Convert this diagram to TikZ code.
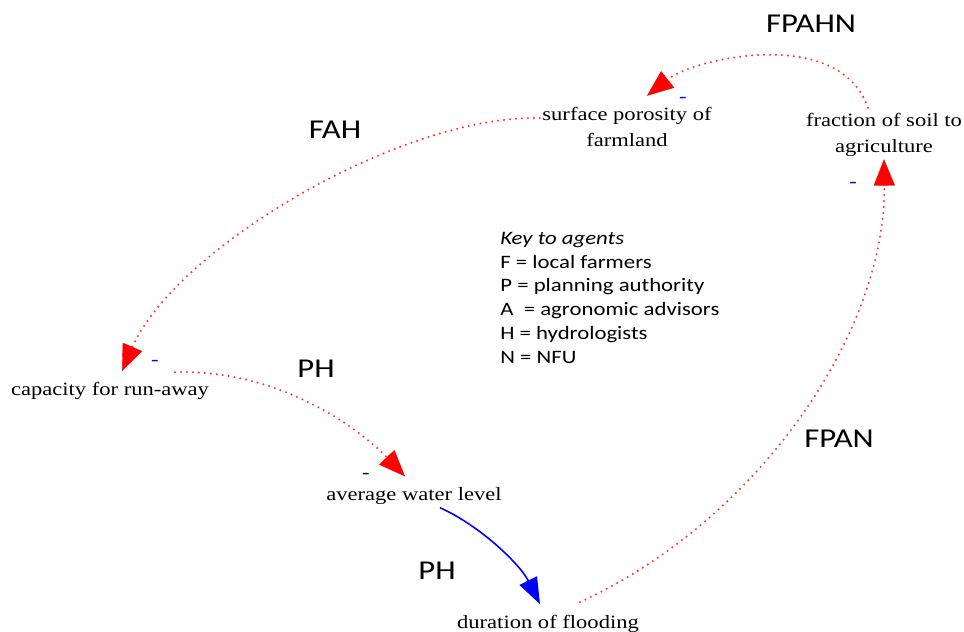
\documentclass[tikz,border=0pt]{standalone}
\usepackage{fontspec}
\setmainfont{Liberation Serif}[FakeStretch=1.2]
\newfontfamily\agentfont{Carlito}[FakeStretch=1.2]
\usetikzlibrary{arrows.meta}
\tikzset{
  factor/.style={font=\fontsize{10.7}{14.7}\selectfont, align=center, inner sep=3pt},
  agents/.style={font=\agentfont\fontsize{15.5}{18}\selectfont, anchor=base},
  sign/.style={font=\fontsize{10.7}{12}\selectfont, inner sep=0pt},
  link/.style={draw=red!80, line width=1.3pt, line cap=round, dash pattern=on 0pt off 3.4pt,
    -{Triangle[length=15pt,width=12pt,color=red,fill=red,line width=0.2pt]}},
  flow/.style={draw=blue, line width=0.9pt, -{Triangle[length=15pt,width=11pt]}}
}
\begin{document}
\begin{tikzpicture}[x=0.02cm,y=-0.02cm]
\useasboundingbox (0,0) rectangle (964,632);
% factors
\node[factor] (surf) at (627,127) {surface porosity of\\farmland};
\node[factor] (frac) at (884,135) {fraction of soil to\\agriculture};
\node[factor,anchor=base] (cap) at (110,395) {capacity for run-away};
\node[factor,anchor=base] (avg) at (414,500) {average water level};
\node[factor,anchor=base] (dur) at (548,628) {duration of flooding};
% signs
\node[sign,blue] (s1) at (683,100) {-};
\node[sign,blue] (s2) at (853,185) {-};
\node[sign,blue] (s3) at (155,363) {-};
\node[sign] (s4) at (366,476) {-};
% agents
\node[agents] (a1) at (811,32) {FPAHN};
\node[agents] (a2) at (335,138) {FAH};
\node[agents] (a3) at (316,377) {PH};
\node[agents] (a4) at (839,447) {FPAN};
\node[agents] (a5) at (437,579) {PH};
% key
\node[anchor=north west, align=left, inner sep=0pt,
  font=\agentfont\fontsize{10.8}{13.5}\selectfont] (key) at (500,232)
  {\textit{Key to agents}\\F = local farmers\\P = planning authority\\A\ \ = agronomic advisors\\H = hydrologists\\N = NFU};
% links
\draw[link] ([shift={(-16,0)}]frac.north) .. controls +(-28,-82) and +(48,-38) .. ([shift={(20,-6)}]surf.north);
\draw[link] ([shift={(3,-9)}]surf.west) .. controls +(-140,-3) and +(53,-122) .. ([shift={(12,-5)}]cap.north);
\draw[link] ([shift={(65,-4)}]cap.north) .. controls +(105,-3) and +(-45,-47) .. ([shift={(-9,-5)}]avg.north);
\draw[flow] ([shift={(26,-2)}]avg.south) .. controls +(40,18) and +(-20,-40) .. ([shift={(-8,-5)}]dur.north);
\draw[link] ([shift={(32,-7)}]dur.north) .. controls +(180,-83) and +(2,172) .. ([shift={(0,-3)}]frac.south);
\end{tikzpicture}
\end{document}
